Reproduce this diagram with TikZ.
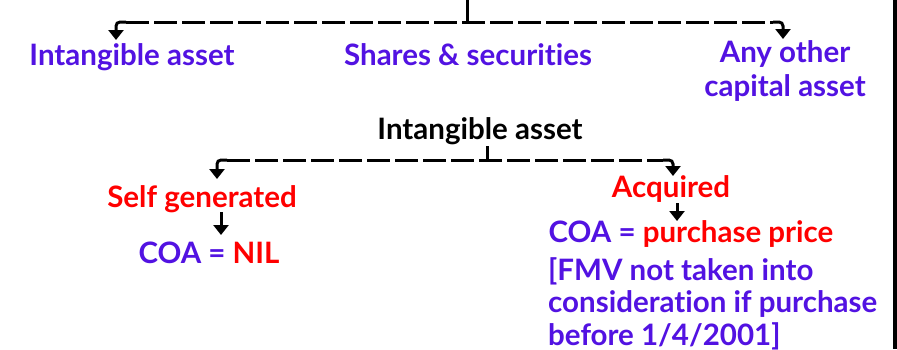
\documentclass[tikz,border=0pt]{standalone}
\usepackage{fontspec}
\setmainfont{Lato}[Ligatures=NoCommon]
\usetikzlibrary{arrows.meta,calc}
\definecolor{vio}{RGB}{82,18,226}
\definecolor{rd}{RGB}{255,0,0}
\begin{document}
\begin{tikzpicture}[x=1pt,y=-1pt,
  txt/.style={inner sep=0pt, anchor=base, font=\fontsize{29.5}{34}\selectfont\bfseries},
  dline/.style={line width=3pt, dash pattern=on 23pt off 5pt},
  sline/.style={line width=3pt},
  arr/.style={line width=3pt, rounded corners=4pt, -{Triangle[width=15pt,length=10pt]}},
]
\useasboundingbox (0,0) rectangle (897,349);
\fill[white] (0,0) rectangle (897,349);
\fill[black] (893,0) rectangle (897,349);

% top level
\coordinate (top) at (467,0);
\coordinate (j1) at (467,22);
\coordinate (l1) at (126,22);
\coordinate (r1) at (773,22);
\coordinate (t1) at (116,40);
\coordinate (t2) at (783,39);
\node[txt, text=vio] (ia) at (132,65) {Intangible asset};
\node[txt, text=vio] (ss) at (468,65) {Shares \& securities};
\node[txt, text=vio, align=center] (oc) at (785,96) {Any other\\capital asset};
\draw[sline] (top) -- (j1);
\draw[dline] (l1) -- (r1);
\draw[arr] (l1) -| (t1);
\draw[arr] (r1) -| (t2);

% second level
\node[txt] (ia2) at (480,139) {Intangible asset};
\coordinate (j2s) at (487,146);
\coordinate (j2) at (487,160);
\coordinate (l2) at (227,160);
\coordinate (r2) at (663,160);
\coordinate (t3) at (217,179);
\coordinate (t4) at (673,176);
\draw[sline] (j2s) -- (j2);
\draw[dline] (l2) -- (r2);
\draw[arr] (l2) -| (t3);
\draw[arr] (r2) -| (t4);

\node[txt, text=rd] (sg) at (202,207) {Self generated};
\node[txt] (coa1) at (209,263) {\textcolor{vio}{COA =} \textcolor{rd}{NIL}};
\coordinate (s1) at (221,212);
\coordinate (e1) at (221,235);
\draw[arr] (s1) -- (e1);

\node[txt, text=rd] (aq) at (671,197) {Acquired};
\node[txt] (coa2) at (691,242) {\textcolor{vio}{COA =} \textcolor{rd}{purchase price}};
\coordinate (s2) at (677,203);
\coordinate (e2) at (677,221);
\draw[arr] (s2) -- (e2);

\node[txt, text=vio, anchor=base west, align=left, font=\fontsize{29.5}{32.5}\selectfont\bfseries] (fmv) at (548,345)
  {[FMV not taken into\\consideration if purchase\\before 1/4/2001]};
\end{tikzpicture}
\end{document}
